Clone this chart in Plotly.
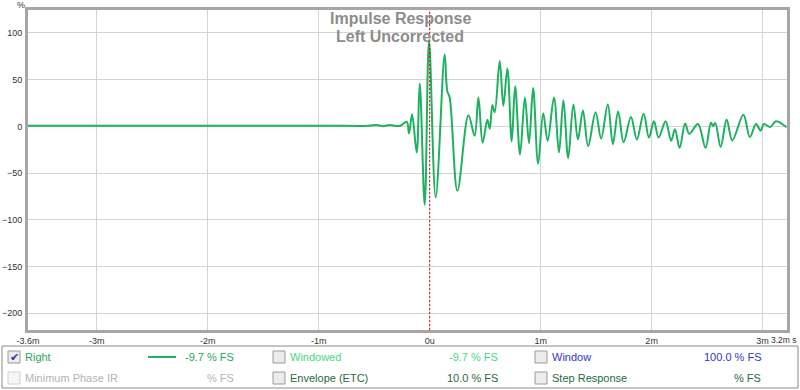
import plotly.graph_objects as go

# ---------------- data ----------------
time_ms = [-3.62, -1.0, -0.55, -0.48, -0.42, -0.36, -0.30, -0.26,
           -0.207, -0.186, -0.159, -0.117, -0.090, -0.045, -0.006, 0.054,
           0.135, 0.158, 0.180, 0.250, 0.349, 0.405, 0.439, 0.477, 0.520,
           0.541, 0.565, 0.586, 0.631, 0.664, 0.700, 0.739, 0.770, 0.814,
           0.858, 0.895, 0.932, 0.977, 1.023, 1.063, 1.120, 1.165, 1.205,
           1.248, 1.295, 1.336, 1.381, 1.428, 1.495, 1.545, 1.605, 1.651,
           1.698, 1.748, 1.814, 1.867, 1.928, 1.976, 2.021, 2.063, 2.126,
           2.176, 2.210, 2.252, 2.302, 2.339, 2.417, 2.486, 2.534, 2.554,
           2.574, 2.622, 2.676, 2.727, 2.827, 2.885, 2.941, 2.982, 3.012,
           3.069, 3.120, 3.216]
amplitude_pct = [0.8, 0.8, 0.6, 1.6, 0.2, 1.6, 0.3, 1.0,
                 5, -7.5, 13, -28, 46, -84, 92, -76,
                 77, 38, 31, -69, 12, -10, 31, -17.5, 7,
                 -2.5, 23, 15, 70, 22, 62, -16, 43, -30,
                 31, -18, 41, -40, 14, -15.5, 31, -28, 28,
                 -34, 23.5, -14, 17, -21, 15, -13, 23.5, -19,
                 16, -17, 10, -14, 13.6, -12, 5.5, -12, 5.5,
                 -15.5, -3, -23, 3, -8, 2.5, -23, 4, 0.5,
                 3.5, -22, 7.5, -15, 12.5, -11.4, 2.5, -4.5, 2.5,
                 -0.7, 5.5, -1]

x_tick_vals = [-3.62, -3, -2, -1, 0, 1, 2, 3]
x_tick_text = ["-3.6m", "-3m", "-2m", "-1m", "0u", "1m", "2m", "3m"]
y_tick_vals = [100, 50, 0, -50, -100, -150, -200]
x_range = [-3.62, 3.22]
y_range = [-218, 124.6]

title_lines = ["Impulse Response", "Left Uncorrected"]

legend_names = ["Right", "Minimum Phase IR", "Windowed", "Envelope (ETC)", "Window", "Step Response"]
legend_values = ["-9.7 % FS", "% FS", "-9.7 % FS", "10.0 % FS", "100.0 % FS", "% FS"]
legend_colors = ["#1ba85a", "#b4b4b4", "#3fdc86", "#1f6b3f", "#3535c8", "#1f6b3f"]
legend_checked = [True, False, False, False, False, False]

trace_color = "#1db160"

# ---------------- layout helpers ----------------
W, H = 800, 390
L, R, T, B = 28, 13, 10, 60
pw, ph = W - L - R, H - T - B


def px(x):
    return (x - L) / pw


def py(y):
    return (H - B - y) / ph


fig = go.Figure()
fig.add_trace(go.Scatter(
    x=time_ms, y=amplitude_pct, mode="lines",
    line=dict(color=trace_color, width=2, shape="spline", smoothing=1.0),
    hoverinfo="skip", showlegend=False))

font_family = "Liberation Sans, Arial, sans-serif"

fig.update_layout(
    width=W, height=H,
    margin=dict(l=L, r=R, t=T, b=B, autoexpand=False),
    paper_bgcolor="white", plot_bgcolor="white",
    showlegend=False,
    font=dict(family=font_family, size=9, color="#333333"),
    xaxis=dict(range=x_range, tickvals=x_tick_vals, ticktext=x_tick_text,
               automargin=False,
               showgrid=True, gridcolor="#d4d4d4", gridwidth=1,
               zeroline=False, showline=True, linecolor="#a6a6a6", linewidth=3,
               mirror=True, ticks="", tickfont=dict(size=9, color="#333333")),
    yaxis=dict(range=y_range, tickvals=y_tick_vals, automargin=False,
               showgrid=True, gridcolor="#d4d4d4", gridwidth=1,
               zeroline=False, showline=True, linecolor="#a6a6a6", linewidth=3,
               mirror=True, ticks="", ticklabelstandoff=1,
               tickfont=dict(size=9, color="#333333")),
)

# red dotted zero line
fig.add_shape(type="line", xref="x", yref="paper", x0=0, x1=0, y0=0, y1=1,
              line=dict(color="#ff0000", width=1, dash="2px,2px"))

# title
fig.add_annotation(x=px(400), y=py(19), xref="paper", yref="paper",
                   text="<b>" + title_lines[0] + "</b>", showarrow=False,
                   font=dict(size=16, color="#8c8c8c", family=font_family),
                   xanchor="center", yanchor="middle")
fig.add_annotation(x=px(400), y=py(37), xref="paper", yref="paper",
                   text="<b>" + title_lines[1] + "</b>", showarrow=False,
                   font=dict(size=16, color="#8c8c8c", family=font_family),
                   xanchor="center", yanchor="middle")

# "%" unit label and "s" after last tick
fig.add_annotation(x=px(21), y=py(5), xref="paper", yref="paper", text="%",
                   showarrow=False, font=dict(size=9, color="#333333"),
                   xanchor="center", yanchor="middle")
fig.add_annotation(x=px(799), y=py(340), xref="paper", yref="paper", text="3.2m s",
                   showarrow=False, font=dict(size=8.5, color="#333333"),
                   xanchor="right", yanchor="middle")

# legend panel
fig.add_shape(type="rect", xref="paper", yref="paper",
              x0=px(2), x1=px(798), y0=py(346), y1=py(388),
              line=dict(color="#8a8a8a", width=1), fillcolor="white", layer="below")

rows_y = [357, 378]
col_box_x = [8, 273, 535]
col_val_right = [236, 500, 763]
for i, name in enumerate(legend_names):
    col, row = i // 2, i % 2
    cy = rows_y[row]
    bx = col_box_x[col]
    fig.add_shape(type="rect", xref="paper", yref="paper",
                  x0=px(bx), x1=px(bx + 12), y0=py(cy + 6), y1=py(cy - 6),
                  line=dict(color="#9a9a9a" if name != "Minimum Phase IR" else "#d0d0d0", width=1),
                  fillcolor="#ececec" if name != "Minimum Phase IR" else "#f6f6f6")
    if legend_checked[i]:
        fig.add_annotation(x=px(bx + 6), y=py(cy), xref="paper", yref="paper",
                           text="✔", showarrow=False,
                           font=dict(size=11, color="#2a3a9a", family="DejaVu Sans"),
                           xanchor="center", yanchor="middle")
    fig.add_annotation(x=px(bx + 15), y=py(cy), xref="paper", yref="paper",
                       text=name, showarrow=False,
                       font=dict(size=11, color=legend_colors[i], family=font_family),
                       xanchor="left", yanchor="middle")
    fig.add_annotation(x=px(col_val_right[col]), y=py(cy), xref="paper", yref="paper",
                       text=legend_values[i], showarrow=False,
                       font=dict(size=11, color=legend_colors[i], family=font_family),
                       xanchor="right", yanchor="middle")

# line sample for "Right"
fig.add_shape(type="line", xref="paper", yref="paper",
              x0=px(148), x1=px(176), y0=py(357), y1=py(357),
              line=dict(color=trace_color, width=2))

fig.write_html("out.html", config={"displayModeBar": False},
               post_script="document.body.style.margin='0';document.body.style.overflow='hidden';")
